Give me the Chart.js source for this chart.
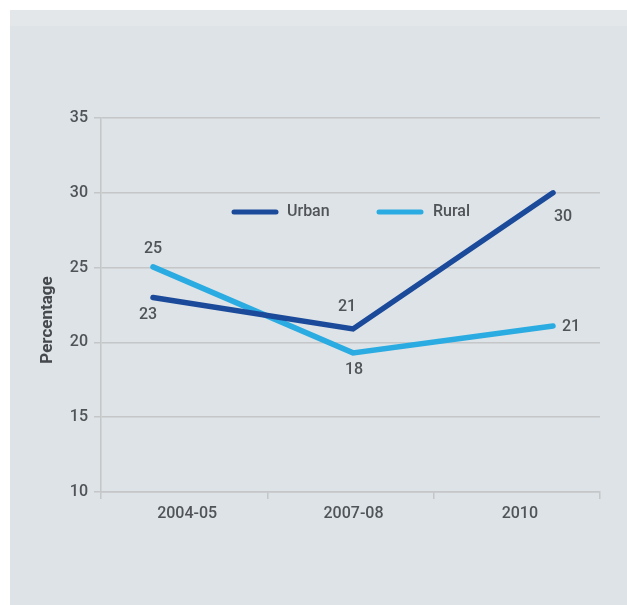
<!DOCTYPE html>
<html>
<head>
<meta charset="utf-8">
<script src="https://cdn.jsdelivr.net/npm/chart.js@4"></script>
<style>
  body { margin: 0; background: #ffffff; }
  #wrap { position: relative; width: 627px; height: 605px; }
  #panel { position: absolute; left: 10px; top: 10px; width: 617px; height: 595px;
           background: #dde3e6; border-top: 16px solid #e3e7e9; box-sizing: border-box; }
  #chart { position: absolute; left: 0; top: 0; }
</style>
</head>
<body>
<div id="wrap">
  <div id="panel"></div>
  <canvas id="chart" width="627" height="605"></canvas>
</div>
<script>
const categories = ['2004-05', '2007-08', '2010'];
const urbanValues = [23, 20.9, 30];
const ruralValues = [25.05, 19.3, 21.1];
const urbanLabels = ['23', '21', '30'];
const ruralLabels = ['25', '18', '21'];
const yTicks = [10, 15, 20, 25, 30, 35];

// label offsets from each point (px)
const urbanOffsets = [[-5, 17], [-6, -22], [10, 24]];
const ruralOffsets = [[0, -18], [1, 17], [18, 1]];

const gridColor = '#c4c6c8';
const textColor = '#505458';
const font = 'Roboto, "Liberation Sans", sans-serif';

const toPoints = vals => vals.map((v, i) => ({ x: i, y: v }));

const extras = {
  id: 'extras',
  afterDraw(chart) {
    const ctx = chart.ctx;
    const xs = chart.scales.xv, ys = chart.scales.y;
    ctx.save();
    ctx.fillStyle = textColor;
    ctx.font = '500 16px ' + font;
    ctx.textAlign = 'center';
    ctx.textBaseline = 'middle';
    const sets = [[urbanValues, urbanLabels, urbanOffsets], [ruralValues, ruralLabels, ruralOffsets]];
    sets.forEach(([vals, labs, offs]) => {
      vals.forEach((v, i) => {
        ctx.fillText(labs[i], xs.getPixelForValue(i) + offs[i][0], ys.getPixelForValue(v) + offs[i][1]);
      });
    });

    // legend inside plot
    const items = [[232, 287], [377, 433]];
    chart.data.datasets.forEach((ds, i) => {
      const [lx, tx] = items[i];
      ctx.strokeStyle = ds.borderColor;
      ctx.lineWidth = 5;
      ctx.lineCap = 'round';
      ctx.beginPath();
      ctx.moveTo(lx + 2, 212);
      ctx.lineTo(lx + 44, 212);
      ctx.stroke();
      ctx.textAlign = 'left';
      ctx.fillText(ds.label, tx, 212);
    });

    // y axis title
    ctx.translate(48, 320);
    ctx.rotate(-Math.PI / 2);
    ctx.textAlign = 'center';
    ctx.font = 'bold 17px ' + font;
    ctx.fillStyle = '#45494d';
    ctx.fillText('Percentage', 0, 0);
    ctx.restore();
  }
};

new Chart(document.getElementById('chart').getContext('2d'), {
  type: 'line',
  data: {
    labels: categories,
    datasets: [
      { label: 'Urban', data: toPoints(urbanValues), xAxisID: 'xv',
        borderColor: '#1b4a9b', borderWidth: 5.5, borderCapStyle: 'round',
        pointRadius: 0, tension: 0, fill: false },
      { label: 'Rural', data: toPoints(ruralValues), xAxisID: 'xv',
        borderColor: '#2aabe2', borderWidth: 5.5, borderCapStyle: 'round',
        pointRadius: 0, tension: 0, fill: false }
    ]
  },
  options: {
    responsive: false,
    animation: false,
    layout: { padding: { top: 118, right: 27, left: 0, bottom: 0 } },
    plugins: { legend: { display: false }, tooltip: { enabled: false } },
    scales: {
      x: {
        type: 'category',
        offset: true,
        grid: { offset: true, drawOnChartArea: false, drawTicks: true, tickLength: 7, color: gridColor, lineWidth: 1.5 },
        border: { color: gridColor, width: 1.5 },
        ticks: { color: textColor, font: { family: font, size: 16, weight: '500' }, padding: 5, labelOffset: 3 },
        afterFit(s) { s.height = 113; }
      },
      xv: {
        type: 'linear',
        display: false,
        min: -0.26,
        max: 2.235
      },
      y: {
        min: 10, max: 35,
        afterBuildTicks(s) { s.ticks = yTicks.map(v => ({ value: v })); },
        grid: { color: gridColor, lineWidth: 1.5, drawTicks: true, tickLength: 7 },
        border: { color: gridColor, width: 1.5 },
        ticks: { color: textColor, font: { family: font, size: 16, weight: '500' }, padding: 6 },
        afterFit(s) { s.width = 101; }
      }
    }
  },
  plugins: [extras]
});
</script>
</body>
</html>
